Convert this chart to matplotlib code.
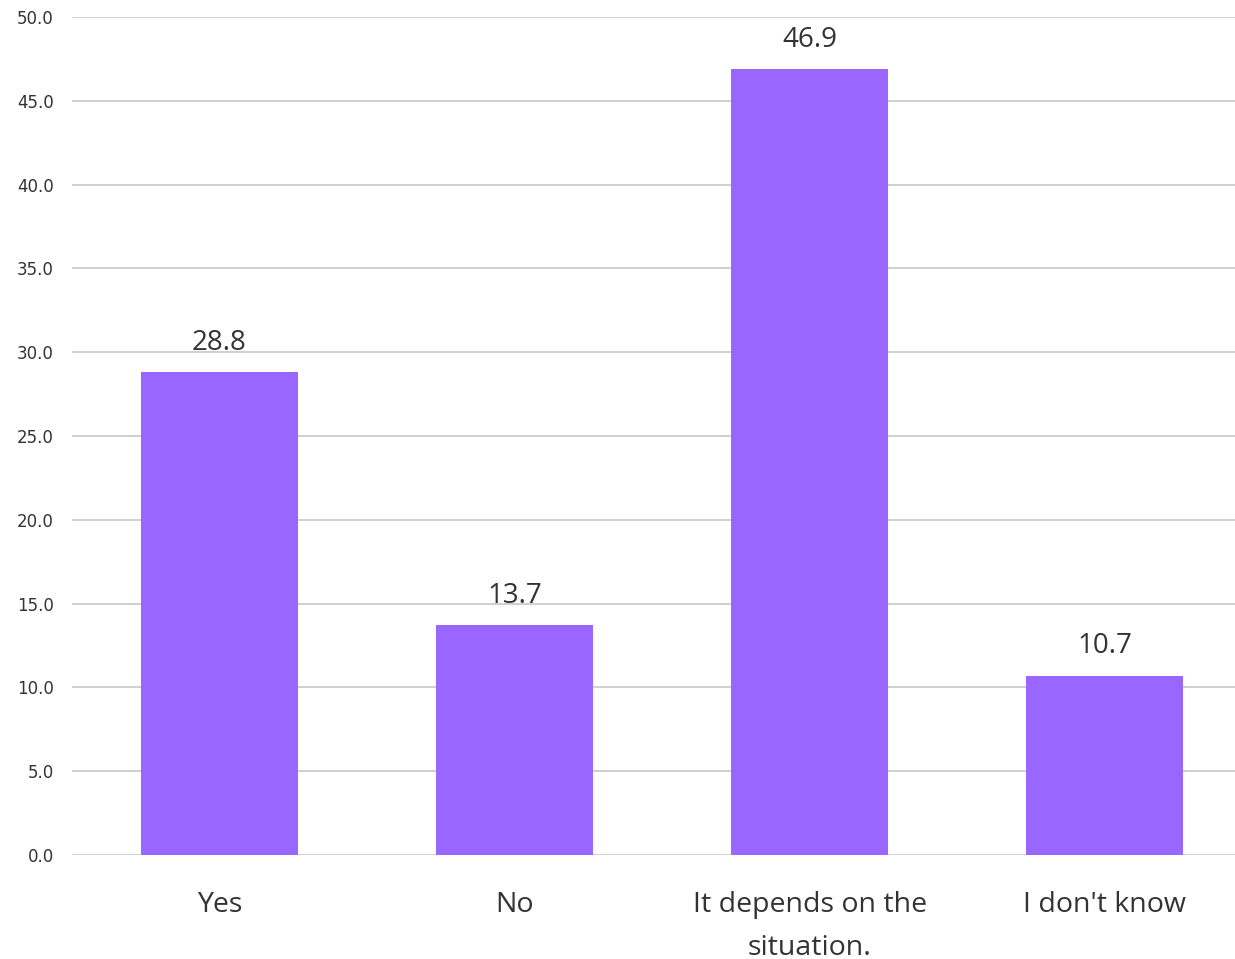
import matplotlib
matplotlib.use("Agg")
import matplotlib.pyplot as plt
import numpy as np

# data
categories = ["Yes", "No", "It depends on the\nsituation.", "I don't know"]
values = [28.8, 13.7, 46.9, 10.7]
yticks = np.arange(0, 55, 5)

bar_color = "#9966FF"
grid_color = "#CCCCCC"
text_color = "#333333"

fig = plt.figure(figsize=(12.35, 9.59), dpi=100)
ax = fig.add_axes([72/1235, 104/959, 1 - 72/1235, 838/959])

x = np.arange(len(categories))
bars = ax.bar(x, values, width=0.533, color=bar_color, zorder=3)

for xi, v in zip(x, values):
    ax.annotate(f"{v:.1f}", (xi, v), xytext=(0, 11), textcoords="offset points",
                ha="center", va="bottom", fontsize=20, color=text_color,
                family="Open Sans")

ax.set_xlim(-0.5, 3.442)
ax.set_ylim(0, 50)
ax.set_yticks(yticks)
ax.set_yticklabels([f"{t:.1f}" for t in yticks], fontsize=12, color=text_color)
ax.set_xticks(x)
ax.set_xticklabels(categories, fontsize=20.5, color=text_color, family="Open Sans",
                   linespacing=1.7)
ax.tick_params(axis="both", length=0)
ax.tick_params(axis="y", pad=13)
ax.tick_params(axis="x", pad=26)
ax.grid(axis="y", color=grid_color, linewidth=1.3, zorder=0)
for s in ax.spines.values():
    s.set_visible(False)

fig.savefig("out.png", dpi=100)
